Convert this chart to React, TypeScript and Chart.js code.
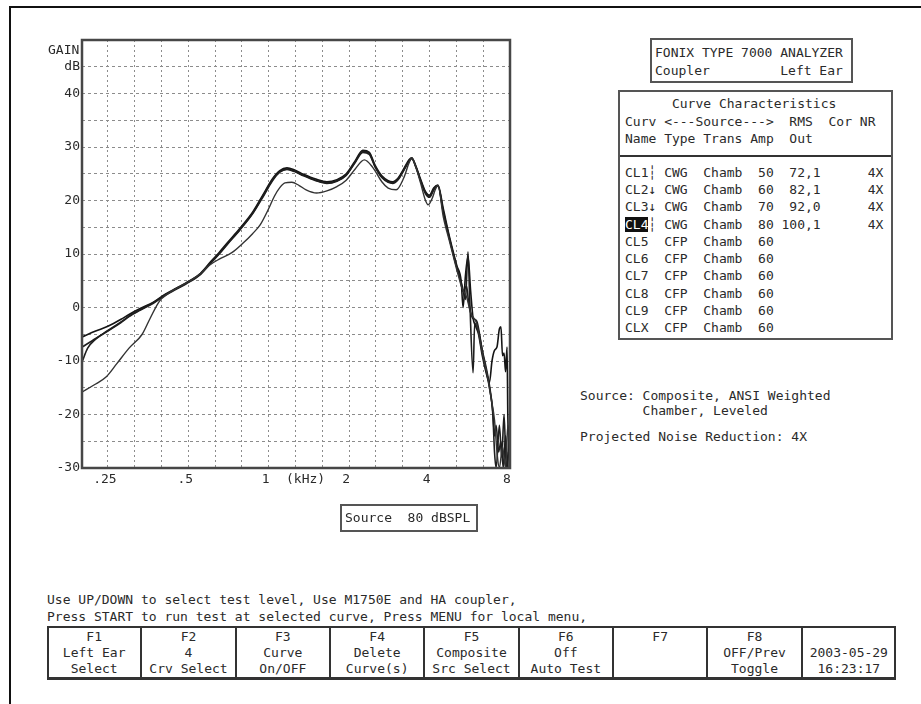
import React, { useEffect, useRef } from "react";
import { Chart, registerables } from "chart.js";

Chart.register(...registerables);

const FONT = "'DejaVu Sans Mono', 'Liberation Mono', monospace";
const INK = "#2a2a2a";

// ---- axis ticks ----
const gridFreqs = [0.25, 0.315, 0.397, 0.5, 0.63, 0.794, 1, 1.26, 1.587, 2, 2.52, 3.175, 4, 5.04, 6.35, 8];
const xLabelValues = [0.25, 0.5, 1, 1.41, 2, 4, 8];
const xLabelTexts = [".25", ".5", "1", "(kHz)", "2", "4", "8"];
const yLabelValues = [-30, -20, -10, 0, 10, 20, 30, 40, 45];
const yLabelTexts = ["-30", "-20", "-10", "0", "10", "20", "30", "40", "dB"];

// ---- curves (frequency kHz, gain dB) ----
const cl1Freq = [0.2, 0.225, 0.25, 0.28, 0.3, 0.33, 0.37, 0.41, 0.45, 0.49, 0.55, 0.6, 0.65, 0.7, 0.78, 0.87, 0.95, 1.03, 1.1, 1.17, 1.25, 1.35, 1.5, 1.65, 1.8, 1.95, 2.1, 2.25, 2.38, 2.5, 2.65, 2.8, 2.91, 3.05, 3.2, 3.35, 3.43, 3.55, 3.7, 3.85, 4.0, 4.15, 4.3, 4.5, 4.77, 5.06, 5.25, 5.34, 5.45, 5.57, 5.7, 5.82, 5.95, 6.1, 6.3, 6.5, 6.7, 6.85, 7.0, 7.15, 7.3, 7.4, 7.5, 7.6, 7.7, 7.8, 7.85, 7.9, 7.95];
const cl1Gain = [-5.5, -4.4, -3.5, -2.2, -1.3, -0.2, 1.0, 2.5, 3.6, 4.6, 6.2, 8.3, 10.2, 12.1, 14.8, 17.8, 21.0, 24.0, 25.6, 26.1, 25.7, 24.9, 24.0, 23.5, 23.9, 25.0, 27.3, 29.4, 29.0, 26.6, 24.6, 23.7, 23.5, 24.2, 25.9, 27.6, 28.0, 26.5, 24.0, 21.8, 21.0, 22.4, 22.9, 18.5, 12.8, 7.8, 5.0, 0.0, 6.0, 9.5, 3.0, -2.0, -3.5, -5.0, -9.0, -12.0, -14.0, -10.0, -8.0, -7.4, -4.0, -3.6, -9.0, -8.5, -12.0, -7.4, -20.0, -25.0, -30.0];

const cl2Freq = [0.2, 0.225, 0.25, 0.28, 0.3, 0.33, 0.37, 0.41, 0.45, 0.49, 0.55, 0.6, 0.65, 0.7, 0.78, 0.87, 0.95, 1.03, 1.1, 1.17, 1.25, 1.35, 1.5, 1.65, 1.8, 1.95, 2.1, 2.25, 2.38, 2.5, 2.65, 2.8, 2.91, 3.05, 3.2, 3.35, 3.43, 3.55, 3.7, 3.85, 4.0, 4.15, 4.3, 4.5, 4.77, 5.06, 5.2, 5.34, 5.5, 5.6, 5.8, 6.0, 6.3, 6.5, 6.7, 6.9, 7.0, 7.1, 7.25, 7.4, 7.55, 7.7, 7.85];
const cl2Gain = [-7.4, -5.8, -4.3, -2.7, -1.6, -0.4, 0.9, 2.4, 3.5, 4.5, 6.1, 8.1, 10.0, 11.9, 14.6, 17.6, 20.8, 23.8, 25.4, 25.9, 25.5, 24.7, 23.8, 23.3, 23.7, 24.8, 27.1, 29.2, 28.8, 26.4, 24.4, 23.5, 23.3, 24.0, 25.7, 27.4, 27.9, 26.4, 23.8, 21.6, 20.8, 22.2, 22.8, 18.0, 12.5, 7.5, 5.5, 3.0, 4.0, 1.0, -2.0, -2.5, -8.0, -11.0, -14.5, -19.5, -24.0, -22.0, -27.0, -25.0, -30.0, -24.0, -30.0];

const cl3Freq = [0.2, 0.21, 0.225, 0.25, 0.28, 0.3, 0.33, 0.37, 0.41, 0.45, 0.49, 0.55, 0.6, 0.65, 0.7, 0.78, 0.87, 0.95, 1.03, 1.1, 1.17, 1.25, 1.35, 1.5, 1.65, 1.8, 1.95, 2.1, 2.25, 2.38, 2.5, 2.65, 2.8, 2.91, 3.05, 3.2, 3.35, 3.43, 3.55, 3.7, 3.85, 4.0, 4.15, 4.3, 4.5, 4.77, 5.06, 5.3, 5.45, 5.57, 5.65, 5.82, 5.9, 6.1, 6.4, 6.7, 6.9, 7.0, 7.1, 7.3, 7.45, 7.6, 7.75, 7.9];
const cl3Gain = [-10.2, -7.6, -5.9, -4.4, -2.8, -1.7, -0.5, 0.8, 2.3, 3.4, 4.4, 6.0, 8.0, 9.9, 11.8, 14.5, 17.5, 20.6, 23.6, 25.3, 25.8, 25.4, 24.6, 23.7, 23.2, 23.6, 24.7, 27.0, 29.0, 28.6, 26.3, 24.3, 23.4, 23.2, 23.9, 25.6, 27.3, 27.8, 26.3, 23.7, 21.4, 20.6, 22.0, 22.7, 17.8, 12.4, 7.4, 4.0, 1.5, 10.4, 2.0, -12.2, -3.0, -4.5, -10.0, -15.0, -20.0, -27.0, -30.0, -22.0, -28.0, -20.0, -30.0, -27.0];

const cl4Freq = [0.2, 0.225, 0.246, 0.27, 0.3, 0.336, 0.36, 0.39, 0.42, 0.46, 0.5, 0.55, 0.6, 0.65, 0.73, 0.8, 0.87, 0.93, 1.0, 1.05, 1.1, 1.15, 1.22, 1.3, 1.38, 1.51, 1.65, 1.8, 1.95, 2.1, 2.28, 2.45, 2.65, 2.8, 3.0, 3.2, 3.35, 3.43, 3.55, 3.7, 3.85, 3.95, 4.1, 4.2, 4.3, 4.5, 4.77, 5.06, 5.3, 5.5, 5.7, 6.0, 6.3, 6.6, 6.8, 7.0, 7.15, 7.3, 7.5, 7.7, 7.85, 8.0];
const cl4Gain = [-15.8, -14.3, -13.0, -10.5, -7.6, -5.0, -2.0, 1.2, 2.6, 3.8, 4.8, 6.2, 7.9, 9.0, 10.3, 12.0, 13.8, 15.5, 18.5, 20.8, 22.4, 23.3, 23.4, 22.8, 22.0, 21.4, 21.8, 22.6, 23.8, 25.8, 27.6, 26.2, 23.5, 22.3, 22.0, 24.2, 27.0, 28.0, 26.3, 23.3, 20.2, 19.2, 20.5, 22.0, 22.8, 17.0, 12.0, 7.0, 3.5, 2.0, -1.0, -3.0, -8.5, -13.0, -17.0, -21.0, -27.0, -30.0, -26.0, -30.0, -22.0, -30.0];

// ---- side table ----
const tableNames = ["CL1", "CL2", "CL3", "CL4", "CL5", "CL6", "CL7", "CL8", "CL9", "CLX"];
const tableMarks = ["┆", "↓", "↓", "┆", " ", " ", " ", " ", " ", " "];
const tableTypes = ["CWG", "CWG", "CWG", "CWG", "CFP", "CFP", "CFP", "CFP", "CFP", "CFP"];
const tableTrans = ["Chamb", "Chamb", "Chamb", "Chamb", "Chamb", "Chamb", "Chamb", "Chamb", "Chamb", "Chamb"];
const tableAmps = ["50", "60", "70", "80", "60", "60", "60", "60", "60", "60"];
const tableRms = ["72,1", "82,1", "92,0", "100,1", "", "", "", "", "", ""];
const tableNr = ["4X", "4X", "4X", "4X", "", "", "", "", "", ""];

// ---- function keys ----
const keyTop = ["F1", "F2", "F3", "F4", "F5", "F6", "F7", "F8", ""];
const keyMid = ["Left Ear", "4", "Curve", "Delete", "Composite", "Off", "", "OFF/Prev", "2003-05-29"];
const keyBot = ["Select", "Crv Select", "On/OFF", "Curve(s)", "Src Select", "Auto Test", "", "Toggle", "16:23:17"];

const toPoints = (f: number[], g: number[]) => f.map((x, i) => ({ x, y: g[i] }));

function Txt({ x, y, children, style }: { x: number; y: number; children: React.ReactNode; style?: React.CSSProperties }) {
  return (
    <div
      style={{
        position: "absolute",
        left: x,
        top: y - 8,
        lineHeight: "16px",
        fontFamily: FONT,
        fontSize: 13,
        color: INK,
        whiteSpace: "pre",
        ...style,
      }}
    >
      {children}
    </div>
  );
}

function GainChart() {
  const ref = useRef<HTMLCanvasElement | null>(null);
  useEffect(() => {
    if (!ref.current) return;
    const frame = {
      id: "frame",
      afterDraw(chart: any) {
        const { ctx, chartArea: a } = chart;
        ctx.save();
        ctx.strokeStyle = "#474747";
        ctx.lineWidth = 2.5;
        ctx.strokeRect(a.left, a.top, a.right - a.left, a.bottom - a.top);
        ctx.restore();
      },
    };
    const mk = (label: string, f: number[], g: number[], color: string, w: number) => ({
      label,
      data: toPoints(f, g),
      showLine: true,
      borderColor: color,
      borderWidth: w,
      pointRadius: 0,
      cubicInterpolationMode: "monotone" as const,
    });
    const chart = new Chart(ref.current, {
      type: "scatter",
      data: {
        datasets: [
          mk("CL4", cl4Freq, cl4Gain, "#333", 1.4),
          mk("CL3", cl3Freq, cl3Gain, "#1e1e1e", 1.6),
          mk("CL2", cl2Freq, cl2Gain, "#1e1e1e", 1.6),
          mk("CL1", cl1Freq, cl1Gain, "#151515", 1.6),
        ],
      },
      options: {
        animation: false,
        responsive: false,
        devicePixelRatio: 1,
        layout: { padding: { left: 0, top: 10, right: 20, bottom: 0 } },
        plugins: { legend: { display: false }, tooltip: { enabled: false } },
        scales: {
          x: {
            type: "logarithmic",
            min: 0.2,
            max: 8,
            afterBuildTicks: (scale: any) => {
              scale.ticks = [...gridFreqs, 1.41].sort((a, b) => a - b).map((v) => ({ value: v }));
            },
            afterFit: (scale: any) => {
              scale.height = 42;
            },
            ticks: {
              autoSkip: false,
              maxRotation: 0,
              padding: 4,
              labelOffset: -3,
              font: { family: FONT, size: 13 },
              color: INK,
              callback: (value: any) => {
                const i = xLabelValues.findIndex((v) => Math.abs(v - Number(value)) < 1e-6);
                return i >= 0 ? xLabelTexts[i] : "";
              },
            },
            grid: {
              drawTicks: false,
              lineWidth: 1,
              color: (ctx: any) =>
                ctx.tick && Math.abs(ctx.tick.value - 1.41) < 1e-6 ? "rgba(0,0,0,0)" : "#8c8c8c",
            },
            border: { display: false, dash: [2, 3] },
          },
          y: {
            type: "linear",
            min: -30,
            max: 50,
            afterFit: (scale: any) => {
              scale.width = 52;
            },
            ticks: {
              stepSize: 5,
              padding: 2,
              autoSkip: false,
              font: { family: FONT, size: 13 },
              color: INK,
              callback: (value: any) => {
                const i = yLabelValues.indexOf(Number(value));
                return i >= 0 ? yLabelTexts[i] : "";
              },
            },
            grid: { drawTicks: false, lineWidth: 1, color: "#8c8c8c" },
            border: { display: false, dash: [3, 3] },
          },
        },
      },
      plugins: [frame],
    });
    return () => chart.destroy();
  }, []);
  return (
    <canvas
      ref={ref}
      width={500}
      height={480}
      style={{ position: "absolute", left: 30, top: 30, width: 500, height: 480 }}
    />
  );
}

export default function App() {
  const rowY = [173, 190, 207, 225, 242, 259, 276, 294, 311, 328];
  const cellW = 849 / 9;
  return (
    <div
      style={{
        position: "fixed",
        left: 0,
        top: 0,
        width: 921,
        height: 704,
        background: "#fff",
        overflow: "hidden",
      }}
    >
      {/* outer scan frame */}
      <div
        style={{
          position: "absolute",
          left: 9,
          top: 6,
          width: 930,
          height: 720,
          borderTop: "2px solid #111",
          borderLeft: "2px solid #111",
        }}
      />

      <GainChart />
      <Txt x={48} y={50}>GAIN</Txt>

      {/* Source box under chart */}
      <div
        style={{
          position: "absolute",
          left: 340,
          top: 504,
          width: 138,
          height: 28,
          boxSizing: "border-box",
          border: "2px solid #555",
        }}
      />
      <Txt x={345} y={518}>Source  80 dBSPL</Txt>

      {/* analyzer header box */}
      <div
        style={{
          position: "absolute",
          left: 650,
          top: 38,
          width: 203,
          height: 45,
          boxSizing: "border-box",
          border: "2px solid #555",
        }}
      />
      <Txt x={655} y={53}>FONIX TYPE 7000 ANALYZER</Txt>
      <Txt x={655} y={71}>Coupler         Left Ear</Txt>

      {/* curve characteristics table */}
      <div
        style={{
          position: "absolute",
          left: 618,
          top: 90,
          width: 275,
          height: 250,
          boxSizing: "border-box",
          border: "2px solid #555",
        }}
      />
      <Txt x={625} y={104}>{"      Curve Characteristics"}</Txt>
      <Txt x={625} y={122}>{"Curv <---Source--->  RMS  Cor NR"}</Txt>
      <Txt x={625} y={139}>{"Name Type Trans Amp  Out"}</Txt>
      <div style={{ position: "absolute", left: 620, top: 155, width: 271, height: 2, background: "#333" }} />
      {tableNames.map((n, i) => {
        const rest =
          `${tableMarks[i]} ${tableTypes[i]}  ${tableTrans[i]}  ${tableAmps[i]} ${tableRms[i].padStart(5)}`.padEnd(28) +
          tableNr[i];
        return (
          <Txt key={n} x={625} y={rowY[i]}>
            {i === 3 ? (
              <span style={{ background: "#111", color: "#fff" }}>{n}</span>
            ) : (
              n
            )}
            {rest}
          </Txt>
        );
      })}

      {/* source info */}
      <Txt x={580} y={396}>Source: Composite, ANSI Weighted</Txt>
      <Txt x={580} y={411}>{"        Chamber, Leveled"}</Txt>
      <Txt x={580} y={437}>Projected Noise Reduction: 4X</Txt>

      {/* prompts */}
      <Txt x={47} y={600}>Use UP/DOWN to select test level, Use M1750E and HA coupler,</Txt>
      <Txt x={47} y={617}>Press START to run test at selected curve, Press MENU for local menu,</Txt>

      {/* function keys */}
      <div
        style={{
          position: "absolute",
          left: 47,
          top: 626,
          width: 849,
          height: 54,
          boxSizing: "border-box",
          borderTop: "2px solid #333",
          borderLeft: "2px solid #333",
          borderRight: "2px solid #333",
          borderBottom: "3px solid #333",
        }}
      />
      {keyTop.map((k, i) => (
        <React.Fragment key={i}>
          {i > 0 && (
            <div
              style={{
                position: "absolute",
                left: 47 + cellW * i - 1,
                top: 626,
                width: 2,
                height: 54,
                background: "#333",
              }}
            />
          )}
          {[k, keyMid[i], keyBot[i]].map((t, j) => (
            <div
              key={j}
              style={{
                position: "absolute",
                left: 47 + cellW * i,
                width: cellW,
                top: 629 + j * 16,
                lineHeight: "16px",
                textAlign: "center",
                fontFamily: FONT,
                fontSize: 13,
                color: INK,
                whiteSpace: "pre",
              }}
            >
              {t}
            </div>
          ))}
        </React.Fragment>
      ))}
    </div>
  );
}
